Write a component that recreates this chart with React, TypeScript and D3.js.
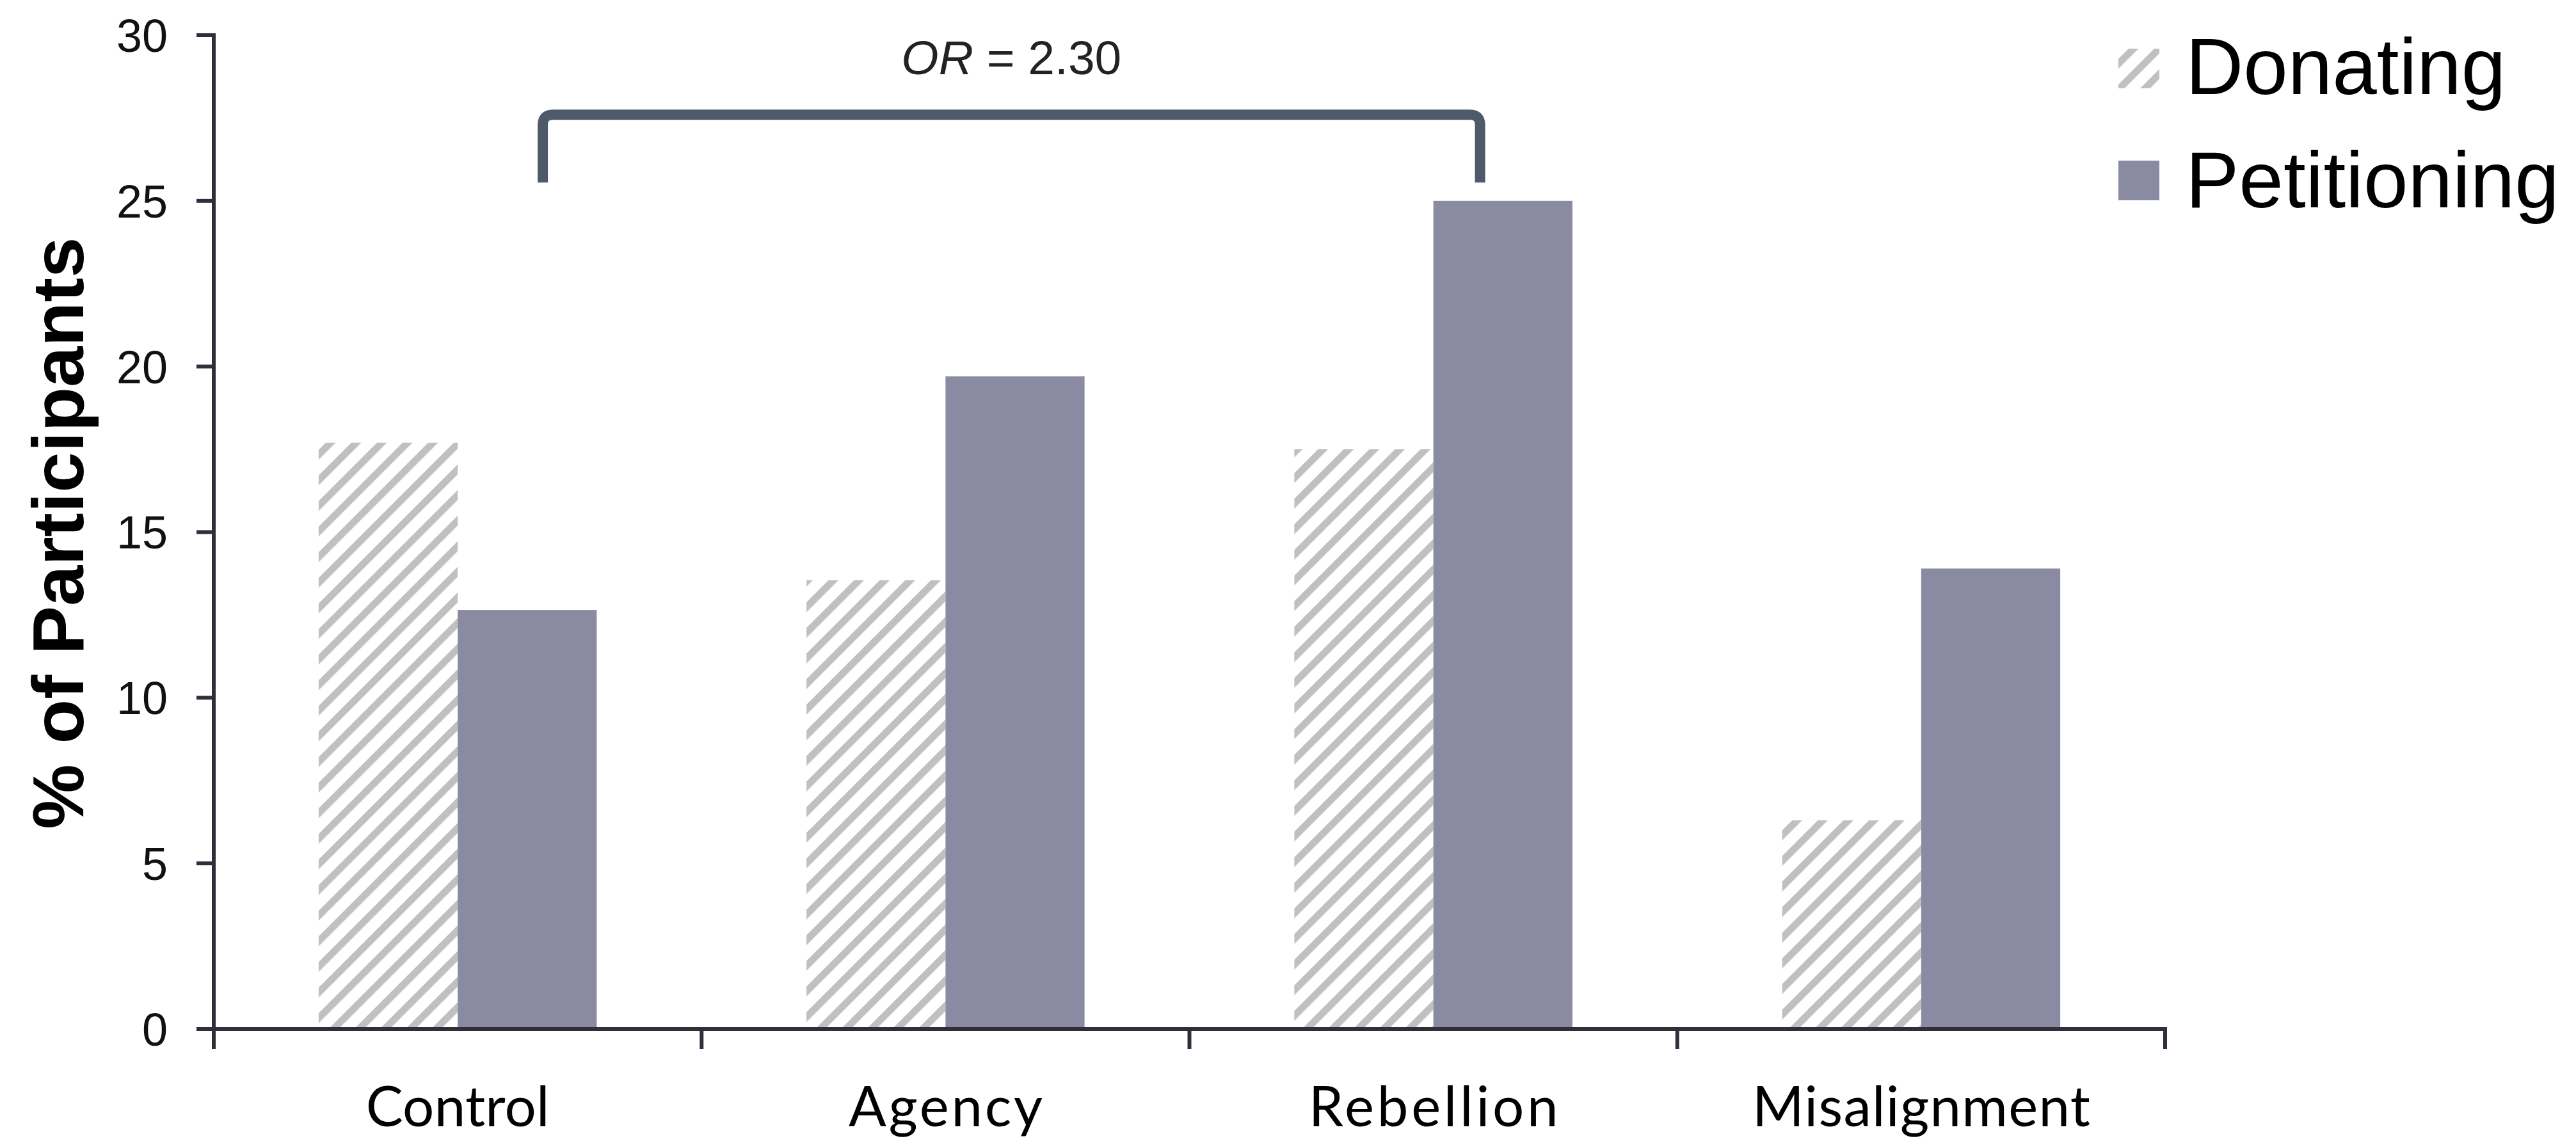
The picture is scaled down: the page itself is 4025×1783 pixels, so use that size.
import React from "react";
import * as d3 from "d3";

const categories = ["Control", "Agency", "Rebellion", "Misalignment"];
const donating = [17.7, 13.55, 17.5, 6.3];
const petitioning = [12.65, 19.7, 25.0, 13.9];
const seriesNames = ["Donating", "Petitioning"];
const yTicks = [0, 5, 10, 15, 20, 25, 30];
const labelWidths = [287, 303, 390, 528];
const bracketValues = { top: 27.6, bottom: 25.55 };
const bracketLabel = { italic: "OR", rest: " = 2.30" };

const W = 4025;
const H = 1783;
const M = { left: 334, right: 3383, top: 55, bottom: 1608 };

export default function App() {
  const x = d3
    .scaleBand<string>()
    .domain(categories)
    .range([M.left, M.right])
    .paddingInner(0.43)
    .paddingOuter(0.215);
  const sub = d3.scaleBand<string>().domain(seriesNames).range([0, x.bandwidth()]).padding(0);
  const y = d3.scaleLinear().domain([0, 30]).range([M.bottom, M.top]);
  const step = x.step();
  const boundaries = d3.range(categories.length + 1).map((i) => M.left + i * step);

  const axisColor = "#2f2f3b";
  const barColor = "#8a8aa3";
  const bracketColor = "#4e5a6a";

  const bx1 = (x("Control") as number) + x.bandwidth() * 0.806;
  const bx2 = (x("Rebellion") as number) + x.bandwidth() * 0.668;
  const byTop = y(bracketValues.top);
  const byBot = y(bracketValues.bottom);
  const r = 16;
  const bracketPath = `M${bx1},${byBot} L${bx1},${byTop + r} Q${bx1},${byTop} ${bx1 + r},${byTop} L${bx2 - r},${byTop} Q${bx2},${byTop} ${bx2},${byTop + r} L${bx2},${byBot}`;

  return (
    <svg
      width={W}
      height={H}
      style={{ position: "absolute", left: 0, top: 0, background: "#fff" }}
      xmlns="http://www.w3.org/2000/svg"
    >
      <defs>
        <pattern
          id="hatch"
          patternUnits="userSpaceOnUse"
          width={28.3}
          height={28.3}
          patternTransform="rotate(45)"
        >
          <rect x={0} y={0} width={28.3} height={28.3} fill="#ffffff" />
          <rect x={0} y={0} width={11} height={28.3} fill="#c0c0c0" />
        </pattern>
      </defs>
      <rect x={0} y={0} width={W} height={H} fill="#fff" />

      {/* bars */}
      {categories.map((c, i) => (
        <g key={c}>
          <rect
            x={(x(c) as number) + (sub("Donating") as number)}
            y={y(donating[i])}
            width={sub.bandwidth()}
            height={y(0) - y(donating[i])}
            fill="url(#hatch)"
          />
          <rect
            x={(x(c) as number) + (sub("Petitioning") as number)}
            y={y(petitioning[i])}
            width={sub.bandwidth()}
            height={y(0) - y(petitioning[i])}
            fill={barColor}
          />
        </g>
      ))}

      {/* y axis */}
      <line x1={M.left} x2={M.left} y1={y(30) - 3} y2={y(0) + 3} stroke={axisColor} strokeWidth={6} />
      {yTicks.map((t) => (
        <g key={t}>
          <line x1={M.left - 27} x2={M.left} y1={y(t)} y2={y(t)} stroke={axisColor} strokeWidth={6} />
          <text
            x={262}
            y={y(t)}
            dy="0.36em"
            textAnchor="end"
            fontFamily="'Liberation Sans', Arial, sans-serif"
            fontSize={72}
            fill="#111"
          >
            {t}
          </text>
        </g>
      ))}

      {/* x axis */}
      <line x1={M.left - 27} x2={M.right + 3} y1={y(0)} y2={y(0)} stroke={axisColor} strokeWidth={6} />
      {boundaries.map((b, i) => (
        <line key={i} x1={b} x2={b} y1={y(0)} y2={y(0) + 31} stroke={axisColor} strokeWidth={6} />
      ))}
      {categories.map((c, i) => (
        <text
          key={c}
          x={(x(c) as number) + x.bandwidth() / 2}
          y={1760}
          textAnchor="middle"
          fontFamily="Lato, 'Noto Sans', sans-serif"
          fontSize={87}
          textLength={labelWidths[i]}
          fill="#000"
        >
          {c}
        </text>
      ))}

      {/* y title */}
      <text
        transform={`translate(130, 833) rotate(-90)`}
        textAnchor="middle"
        fontFamily="'Liberation Sans', Arial, sans-serif"
        fontWeight="bold"
        fontSize={114}
        fill="#000"
      >
        % of Participants
      </text>

      {/* bracket annotation */}
      <path d={bracketPath} fill="none" stroke={bracketColor} strokeWidth={16} />
      <text
        x={(bx1 + bx2) / 2}
        y={116}
        textAnchor="middle"
        fontFamily="'Liberation Sans', Arial, sans-serif"
        fontSize={75}
        fill="#222"
      >
        <tspan fontStyle="italic">{bracketLabel.italic}</tspan>
        <tspan>{bracketLabel.rest}</tspan>
      </text>

      {/* legend */}
      <g>
        <rect x={3310} y={76} width={64} height={62} fill="url(#hatch)" />
        <text x={3415} y={147} fontFamily="'Liberation Sans', Arial, sans-serif" fontSize={125} fill="#000">
          {seriesNames[0]}
        </text>
        <rect x={3310} y={251} width={64} height={62} fill={barColor} />
        <text x={3415} y={324} fontFamily="'Liberation Sans', Arial, sans-serif" fontSize={125} fill="#000">
          {seriesNames[1]}
        </text>
      </g>
    </svg>
  );
}
